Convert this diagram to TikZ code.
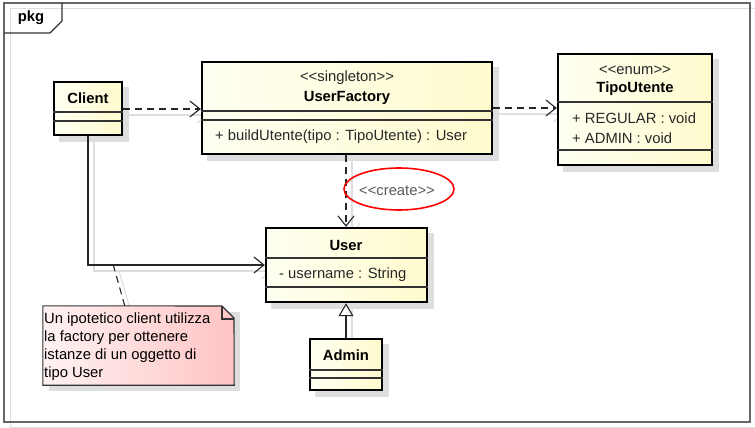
\documentclass[tikz,border=0pt]{standalone}
\usepackage{fontspec}
\setmainfont{Liberation Sans}
\usetikzlibrary{arrows.meta,calc}
\pgfdeclarelayer{bg}
\pgfdeclarelayer{bgbase}
\pgfsetlayers{bgbase,bg,main}
\definecolor{boxL}{RGB}{255,255,242}
\definecolor{boxR}{RGB}{255,251,206}
\definecolor{noteL}{RGB}{255,242,242}
\definecolor{noteR}{RGB}{255,196,196}
\definecolor{shad}{RGB}{222,222,222}
\definecolor{txt}{RGB}{40,40,40}
\tikzset{
  umlbox/.style={rectangle, draw=black, line width=2.4pt, left color=boxL, right color=boxR, inner sep=0pt},
  sep/.style={draw=black!80, line width=1.1pt},
  lbl/.style={inner sep=0pt, text=txt, font=\fontsize{14.8}{17}\selectfont},
  blbl/.style={inner sep=0pt, text=black, font=\fontsize{14.8}{17}\selectfont\bfseries},
  dep/.style={draw=black!85, line width=1.1pt, dash pattern=on 7pt off 5pt, -{Straight Barb[length=10pt,width=16pt,line width=1.1pt]}},
  assoc/.style={draw=black!85, line width=1.1pt, -{Straight Barb[length=10pt,width=16pt,line width=1.1pt]}},
  gen/.style={draw=black!85, line width=1.1pt, -{Triangle[open,length=13pt,width=15pt,fill=white,line width=1.1pt]}},
  notelink/.style={draw=black!85, line width=1.1pt, dash pattern=on 7pt off 5pt},
  shline/.style={draw=shad, line width=1.1pt},
  shbar/.style={-{Straight Barb[length=10pt,width=16pt,line width=1.1pt]}},
}
\begin{document}
\begin{tikzpicture}[x=1pt,y=-1pt]
\useasboundingbox (0,0) rectangle (755,428);
% frame
\begin{pgfonlayer}{bgbase}
\fill[white] (0,0) rectangle (755,428);
\draw[shad, line width=1pt] (10,9) rectangle (755,427);
\end{pgfonlayer}
\draw[black!60, line width=1.6pt] (4,3) rectangle (750,422);
\draw[black!80, line width=1.1pt] (4,33) -- (50,33) -- (62,21) -- (62,3);
\node[blbl, anchor=center] (pkg) at (31,18) {pkg};

% boxes
\node[umlbox, minimum width=68pt, minimum height=53pt] (client) at (88,108.5) {};
\node[umlbox, minimum width=290pt, minimum height=92pt] (uf) at (347,108) {};
\node[umlbox, minimum width=154pt, minimum height=111pt] (tipo) at (635,109.5) {};
\node[umlbox, minimum width=161pt, minimum height=74pt] (user) at (346.5,265) {};
\node[umlbox, minimum width=72pt, minimum height=51pt] (admin) at (346,364.5) {};
\node[minimum width=191pt, minimum height=79pt, inner sep=0pt] (note) at (138.5,345.5) {};

% note shape
\path[draw=black!80, line width=1.1pt, left color=noteL, right color=noteR]
  (note.north west) -- (222,306) -- (234,318) -- (note.south east) -- (note.south west) -- cycle;
\draw[black!80, line width=1.1pt] (222,306) -- (222,319) -- (234,319);

% compartments
\draw[sep] (client.west |- 0,112) -- (client.east |- 0,112);
\draw[sep] (client.west |- 0,121) -- (client.east |- 0,121);
\draw[sep] (uf.west |- 0,111) -- (uf.east |- 0,111);
\draw[sep] (uf.west |- 0,120) -- (uf.east |- 0,120);
\draw[sep] (tipo.west |- 0,102) -- (tipo.east |- 0,102);
\draw[sep] (tipo.west |- 0,150) -- (tipo.east |- 0,150);
\draw[sep] (user.west |- 0,258) -- (user.east |- 0,258);
\draw[sep] (user.west |- 0,287) -- (user.east |- 0,287);
\draw[sep] (admin.west |- 0,370) -- (admin.east |- 0,370);
\draw[sep] (admin.west |- 0,378) -- (admin.east |- 0,378);

% texts
\node[blbl] (tclient) at (88,98) {Client};
\node[lbl] (tufst) at (347,78) {<{}<singleton>{}>};
\node[blbl] (tuf) at (347,98) {UserFactory};
\node[lbl, anchor=west] (tufm) at (215,137) {+ buildUtente(tipo : TipoUtente) : User};
\node[lbl] (ttst) at (635,70) {<{}<enum>{}>};
\node[blbl] (tt) at (635,89) {TipoUtente};
\node[lbl, anchor=west] (tt1) at (572,118) {+ REGULAR : void};
\node[lbl, anchor=west] (tt2) at (572,138) {+ ADMIN : void};
\node[blbl] (tuser) at (346,245) {User};
\node[lbl, anchor=west] (tuattr) at (279,275) {- username : String};
\node[blbl] (tadmin) at (346,355) {Admin};
\node[lbl, anchor=west, align=left, text=black, font=\fontsize{14.8}{18}\selectfont] (tnote) at (44,347)
  {Un ipotetico client utilizza\\la factory per ottenere\\istanze di un oggetto di\\tipo User};

% connectors
\coordinate (nl) at (113,264);
\draw[dep] (client.east |- 0,109) -- (uf.west |- 0,109);
\draw[dep] (uf.east |- 0,108) -- (tipo.west |- 0,108);
\draw[dep] (uf.south -| 346,0) -- (user.north -| 346,0);
\draw[assoc] (client.south) |- (user.west);
\draw[gen] (admin.north) -- (user.south -| admin.north);
\draw[notelink] ($(note.north west)+(82,0)$) -- (nl);

\node[lbl, text=black!65] (create) at (397,191) {<{}<create>{}>};
\draw[red, line width=1.6pt] (399,189) ellipse [x radius=55, y radius=21];

% shadows
\begin{pgfonlayer}{bg}
\foreach \n in {client,uf,tipo,user,admin,note}{
  \fill[shad] ($(\n.north west)+(6,6)$) rectangle ($(\n.south east)+(6,6)$);
}
\draw[shline, shbar] (128,115) -- (208,115);
\draw[shline, shbar] (498,114) -- (564,114);
\draw[shline, shbar] (352,160) -- (352,234);
\draw[shline, shbar] (94,141) |- (272,271);
\draw[shline] (352,345) -- (352,308);
\draw[shline] (131,312) -- (119,271);
\end{pgfonlayer}
\end{tikzpicture}
\end{document}
